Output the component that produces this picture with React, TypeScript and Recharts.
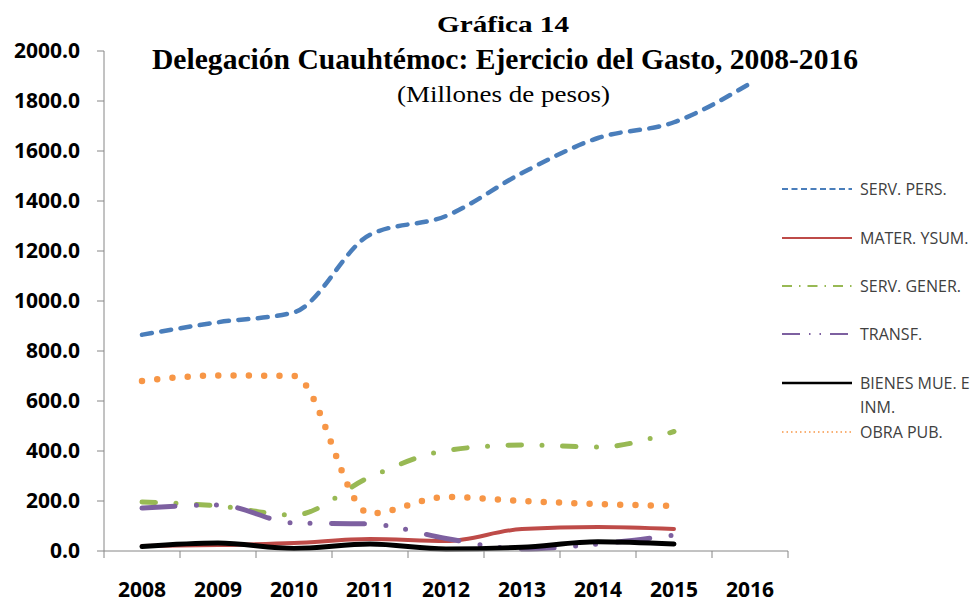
import React from 'react';
import { LineChart, Line, XAxis, YAxis } from 'recharts';

// ---------- data ----------
const years = ['2008', '2009', '2010', '2011', '2012', '2013', '2014', '2015', '2016'];
const servPers = [865, 915, 955, 1265, 1340, 1512, 1652, 1715, 1870];
const materSum = [20, 24, 32, 48, 40, 88, 96, 88, null];
const servGener = [196, 180, 144, 296, 402, 424, 416, 478, null];
const transf = [172, 184, 112, 108, 50, 8, 28, 64, null];
const bienes = [18, 32, 10, 28, 8, 15, 37, 28, null];
const obraPub = [680, 702, 700, 150, 216, 200, 188, 180, null];
const yTicks = [0, 200, 400, 600, 800, 1000, 1200, 1400, 1600, 1800, 2000];

const titleLines = ['Gráfica 14', 'Delegación Cuauhtémoc: Ejercicio del Gasto, 2008-2016', '(Millones de pesos)'];

const series = [
  { key: 'servPers', name: 'SERV. PERS.', values: servPers, color: '#4A7EBB', width: 4.5, dash: '10 9.5', legendDash: '6 3.5', legendWidth: 2 },
  { key: 'materSum', name: 'MATER. YSUM.', values: materSum, color: '#BE4B48', width: 4, dash: undefined, legendDash: undefined, legendWidth: 2 },
  { key: 'servGener', name: 'SERV. GENER.', values: servGener, color: '#98B954', width: 5, dash: '13.5 20.5 0 20.5', legendDash: '10 7 1.5 7', legendWidth: 2 },
  { key: 'transf', name: 'TRANSF.', values: transf, color: '#7D60A0', width: 5, dash: '33 21.5 0 20 0 21.5', legendDash: '18 9 1.5 9 1.5 9', legendWidth: 2 },
  { key: 'bienes', name: 'BIENES MUE. E|INM.', values: bienes, color: '#000000', width: 5, dash: undefined, legendDash: undefined, legendWidth: 2.5 },
  { key: 'obraPub', name: 'OBRA PUB.', values: obraPub, color: '#F79646', width: 6.5, dash: '0 15.3', legendDash: '1.5 3', legendWidth: 1.5 },
];

const data = years.map((y, i) => {
  const row: any = { year: y };
  series.forEach((s) => {
    row[s.key] = s.values[i];
  });
  return row;
});

const AXIS = '#868686';
const LEGEND_Y = [189, 238, 286, 334, 383, 432];

const CHART_W = 977;
const MARGIN_RIGHT = 189;
const Y_AXIS_W = 104;
const PLOT_W = CHART_W - MARGIN_RIGHT - Y_AXIS_W;
const HALF_BAND = PLOT_W / years.length / 2;
const TICK_SIZE = 7;
const TICK_MARGIN = 24;

const YearTick = (props: any) => {
  const { x, y, payload, index } = props;
  const axisY = y - TICK_SIZE - TICK_MARGIN;
  const isLast = index === years.length - 1;
  return (
    <g>
      <line x1={x - HALF_BAND} x2={x - HALF_BAND} y1={axisY} y2={axisY + TICK_SIZE} stroke={AXIS} />
      {isLast && <line x1={x + HALF_BAND} x2={x + HALF_BAND} y1={axisY} y2={axisY + TICK_SIZE} stroke={AXIS} />}
      <text x={x} y={y} dy="0.71em" textAnchor="middle" fill="#000" fontFamily="Open Sans" fontWeight={700} fontSize={21}>
        {payload.value}
      </text>
    </g>
  );
};

export default function App() {
  return (
    <div style={{ position: 'absolute', left: 0, top: 0, width: 977, height: 600, background: '#fff' }}>
      <LineChart
        width={CHART_W}
        height={600}
        data={data}
        margin={{ top: 51, right: MARGIN_RIGHT, left: 0, bottom: 0 }}
      >
        <XAxis
          dataKey="year"
          padding={{ left: HALF_BAND, right: HALF_BAND }}
          axisLine={{ stroke: AXIS }}
          tickLine={false}
          tickSize={TICK_SIZE}
          tickMargin={TICK_MARGIN}
          height={49}
          interval={0}
          tick={YearTick}
        />
        <YAxis
          domain={[0, 2000]}
          ticks={yTicks}
          width={Y_AXIS_W}
          interval={0}
          tickSize={7}
          tickMargin={17}
          stroke={AXIS}
          tickFormatter={(v: number) => v.toFixed(1)}
          tick={{ fill: '#000', fontFamily: 'Open Sans', fontWeight: 700, fontSize: 21 }}
        />
        {series.map((s) => (
          <Line
            key={s.key}
            dataKey={s.key}
            name={s.name}
            type="monotone"
            stroke={s.color}
            strokeWidth={s.width}
            strokeDasharray={s.dash}
            strokeLinecap="round"
            strokeLinejoin="round"
            dot={false}
            activeDot={false}
            isAnimationActive={false}
            connectNulls={false}
          />
        ))}
      </LineChart>
      <svg
        width={977}
        height={600}
        style={{ position: 'absolute', left: 0, top: 0, pointerEvents: 'none' }}
      >
        <text x={503} y={32} textAnchor="middle" fontFamily="Liberation Serif" fontWeight={700} fontSize={23} textLength={132} lengthAdjust="spacingAndGlyphs">{titleLines[0]}</text>
        <text x={505} y={69} textAnchor="middle" fontFamily="Liberation Serif" fontWeight={700} fontSize={28.5} textLength={706} lengthAdjust="spacingAndGlyphs">{titleLines[1]}</text>
        <text x={503.5} y={102} textAnchor="middle" fontFamily="Liberation Serif" fontSize={23} textLength={213} lengthAdjust="spacingAndGlyphs">{titleLines[2]}</text>
        {series.map((s, i) => {
          const y = LEGEND_Y[i];
          const parts = s.name.split('|');
          return (
            <g key={s.key}>
              <line x1={782} x2={852} y1={y} y2={y} stroke={s.color} strokeWidth={s.legendWidth} strokeDasharray={s.legendDash} />
              {parts.map((p, j) => (
                <text key={j} x={860} y={y + 6 + j * 24} fontFamily="Open Sans" fontSize={16} fill="#404040">{p}</text>
              ))}
            </g>
          );
        })}
      </svg>
    </div>
  );
}
